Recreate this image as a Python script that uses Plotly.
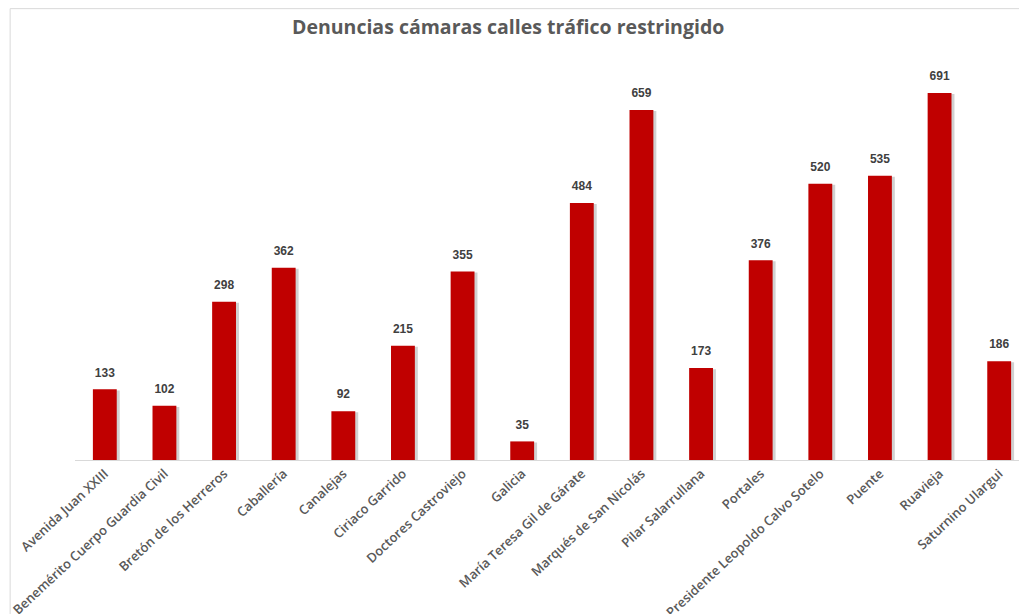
import plotly.graph_objects as go

# Datos del gráfico
calles = [
    "Avenida Juan XXIII", "Benemérito Cuerpo Guardia Civil", "Bretón de los Herreros",
    "Caballería", "Canalejas", "Ciriaco Garrido", "Doctores Castroviejo", "Galicia",
    "María Teresa Gil de Gárate", "Marqués de San Nicolás", "Pilar Salarrullana",
    "Portales", "Presidente Leopoldo Calvo Sotelo", "Puente", "Ruavieja", "Saturnino Ulargui",
]
denuncias = [133, 102, 298, 362, 92, 215, 355, 35, 484, 659, 173, 376, 520, 535, 691, 186]

fig = go.Figure()

# sombra suave detrás de las barras
fig.add_trace(go.Bar(
    x=calles, y=denuncias,
    width=0.4, offset=-0.15, base=[-2] * len(denuncias),
    marker=dict(color="rgba(0,0,0,0.18)", line_width=0),
    hoverinfo="skip", showlegend=False,
))

fig.add_trace(go.Bar(
    x=calles, y=denuncias,
    width=0.4, offset=-0.2,
    marker=dict(color="#C00000", line_width=0),
    showlegend=False,
))

# etiquetas de valor un poco separadas de la barra
fig.add_trace(go.Scatter(
    x=calles, y=denuncias, mode="markers+text",
    marker=dict(size=14, opacity=0),
    text=denuncias, textposition="top center",
    textfont=dict(family="Liberation Sans, Arial", size=12, color="#404040", weight="bold"),
    cliponaxis=False, hoverinfo="skip", showlegend=False,
))

fig.update_layout(
    barmode="overlay",
    width=1027, height=614,
    paper_bgcolor="white", plot_bgcolor="white",
    margin=dict(l=67, r=6, t=27, b=162),
    title=dict(
        text="<b>Denuncias cámaras calles tráfico restringido</b>",
        x=0.487, xanchor="center", y=0.969, yanchor="middle",
        font=dict(family="Open Sans", size=19.5, color="#595959"),
    ),
    font=dict(family="Open Sans", color="#595959"),
    shapes=[
        dict(type="line", xref="paper", yref="paper", x0=-0.068, x1=-0.068, y0=-0.4, y1=1.062,
             line=dict(color="#D9D9D9", width=1)),
        dict(type="line", xref="paper", yref="paper", x0=-0.068, x1=1.1, y0=1.062, y1=1.062,
             line=dict(color="#D9D9D9", width=1)),
    ],
)

fig.update_xaxes(
    range=[-0.5, len(calles) - 0.5],
    tickangle=-43, automargin=False,
    tickfont=dict(family="Open Sans", size=13, color="#595959", weight=600),
    showline=True, linecolor="#D9D9D9", linewidth=1,
    ticks="", showgrid=False,
)
fig.update_yaxes(range=[0, 800], visible=False, showgrid=False, zeroline=False)

fig.write_html("out.html")
